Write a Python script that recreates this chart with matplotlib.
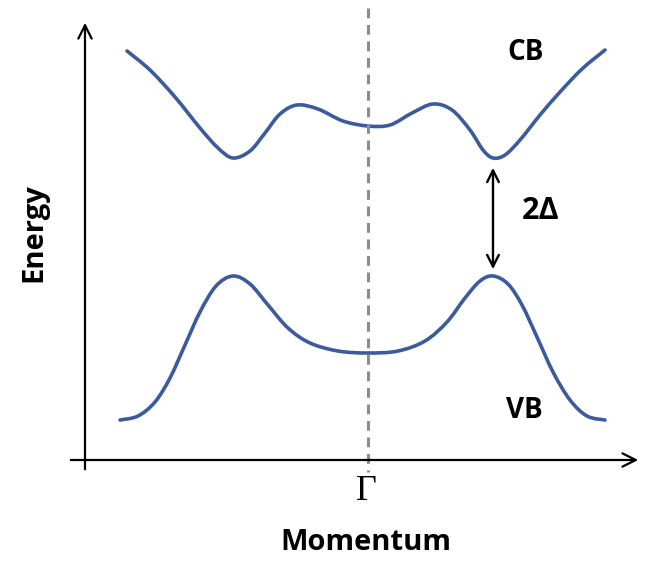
import matplotlib
matplotlib.use("Agg")
import matplotlib.pyplot as plt
import numpy as np
from matplotlib.path import Path
from matplotlib.patches import PathPatch

cb_k = [127, 150, 175, 200, 218, 233, 250, 265, 280, 297, 318, 343, 368,
        390, 412, 433, 452, 470, 483, 493, 505, 520, 540, 560, 582, 605]
cb_y = [51, 70, 97, 128, 148, 158, 151, 133, 114, 105, 109, 121, 126,
        125, 113, 104, 110, 130, 150, 158, 155, 140, 115, 92, 69, 50]
vb_k = [120, 138, 155, 170, 185, 200, 216, 233, 250, 268, 288, 310, 338, 368,
        398, 425, 447, 465, 480, 493, 508, 522, 537, 553, 570, 587, 605]
vb_y = [420, 416, 402, 378, 345, 312, 286, 276, 284, 305, 328, 343, 351, 353,
        351, 341, 322, 298, 281, 276, 284, 305, 337, 372, 400, 416, 420]

H = 562
gamma_k = 368
gap_k = 493
band_color = '#3b5b9d'


def smooth_path(xs, ys):
    # Catmull-Rom through the points, drawn as cubic Bezier segments
    p = np.column_stack([xs, ys]).astype(float)
    verts = [p[0]]
    codes = [Path.MOVETO]
    for i in range(len(p) - 1):
        p0 = p[i - 1] if i > 0 else p[i]
        p1, p2 = p[i], p[i + 1]
        p3 = p[i + 2] if i + 2 < len(p) else p[i + 1]
        verts += [p1 + (p2 - p0) / 6, p2 - (p3 - p1) / 6, p2]
        codes += [Path.CURVE4] * 3
    return Path(verts, codes)


fig = plt.figure(figsize=(6.45, 5.62), dpi=100)
ax = fig.add_axes([0, 0, 1, 1])
ax.set_xlim(0, 645)
ax.set_ylim(0, H)
ax.axis('off')

cb_E = H - np.array(cb_y)
vb_E = H - np.array(vb_y)
for k, E in [(cb_k, cb_E), (vb_k, vb_E)]:
    ax.add_patch(PathPatch(smooth_path(k, E), fill=False, ec=band_color, lw=2.6,
                           capstyle='round', joinstyle='round'))

# axes arrows
arrow = dict(arrowstyle='->', color='black', lw=1.6, mutation_scale=24)
ax.annotate('', xy=(85, H - 20), xytext=(85, H - 472), arrowprops=arrow)
ax.annotate('', xy=(641, H - 460), xytext=(68, H - 460), arrowprops=arrow)

# Gamma line
ax.plot([gamma_k, gamma_k], [H - 8, H - 472], ls=(0, (3.2, 2.2)), color='#8c8c8c', lw=2.2)

# gap arrow
ax.annotate('', xy=(gap_k, H - 165), xytext=(gap_k, H - 272),
            arrowprops=dict(arrowstyle='<->', color='black', lw=1.7, mutation_scale=21))

bold = dict(family='Open Sans', fontweight='bold', color='black')
ax.text(526, H - 53, 'CB', fontsize=20, ha='center', va='center', **bold)
ax.text(524, H - 410, 'VB', fontsize=20, ha='center', va='center', **bold)
ax.text(541, H - 211, '2Δ', fontsize=22, ha='center', va='center', **bold)
ax.text(34, H - 233, 'Energy', fontsize=21, ha='center', va='center', rotation=90, **bold)
ax.text(366, H - 543, 'Momentum', fontsize=21, ha='center', va='center', **bold)
ax.text(366, H - 492, 'Γ', fontsize=26, ha='center', va='center', family='Liberation Serif')

fig.savefig('out.png', dpi=100)
